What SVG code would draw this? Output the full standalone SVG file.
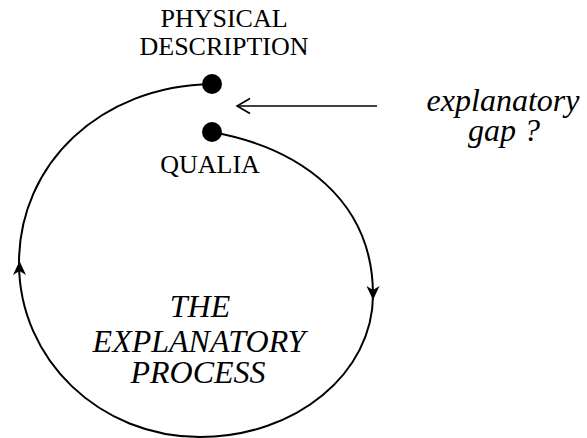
<svg xmlns="http://www.w3.org/2000/svg" xmlns:xlink="http://www.w3.org/1999/xlink" width="587" height="438" viewBox="0 0 587 438">
<style>
.up{font-family:"Liberation Serif","Times New Roman",serif;font-size:26px;fill:#000;text-anchor:middle}
.it{font-family:"Liberation Serif","Times New Roman",serif;font-size:32px;font-style:italic;fill:#000;text-anchor:middle}
.ln{fill:none;stroke:#000;stroke-width:2}
.thin{fill:none;stroke:#000;stroke-width:1.6}
.dot{fill:#000}
</style>
<defs>
<path id="ah" d="M0,0 L6.5,14 L0,10 L-6.5,14 Z" fill="#000"/>
</defs>
<rect width="587" height="438" fill="#fff"/>
<g id="connectors">
<path class="ln" d="M212,132 C300,148 373,200 373,295 C373,373 296,437 200,437 C100,437 19,360 19,263 C19,164 100,86 212,84"/>
<use xlink:href="#ah" transform="translate(19.5,261)"/>
<use xlink:href="#ah" transform="translate(373,300) rotate(180)"/>
<line class="thin" x1="237" y1="106" x2="377" y2="106"/>
<path class="thin" d="M250,98.5 L237,106 L250,113.5"/>
</g>
<g id="physical">
<circle class="dot" cx="212" cy="84" r="10"/>
<text class="up" x="224" y="27">PHYSICAL</text>
<text class="up" x="224" y="55">DESCRIPTION</text>
</g>
<g id="qualia">
<circle class="dot" cx="212" cy="132" r="10"/>
<text class="up" x="210" y="173">QUALIA</text>
</g>
<g id="process">
<text class="it" x="200" y="317">THE</text>
<text class="it" x="199" y="352">EXPLANATORY</text>
<text class="it" x="198" y="383">PROCESS</text>
</g>
<g id="gap">
<text class="it" x="503" y="111">explanatory</text>
<text class="it" x="504" y="141">gap ?</text>
</g>
</svg>
